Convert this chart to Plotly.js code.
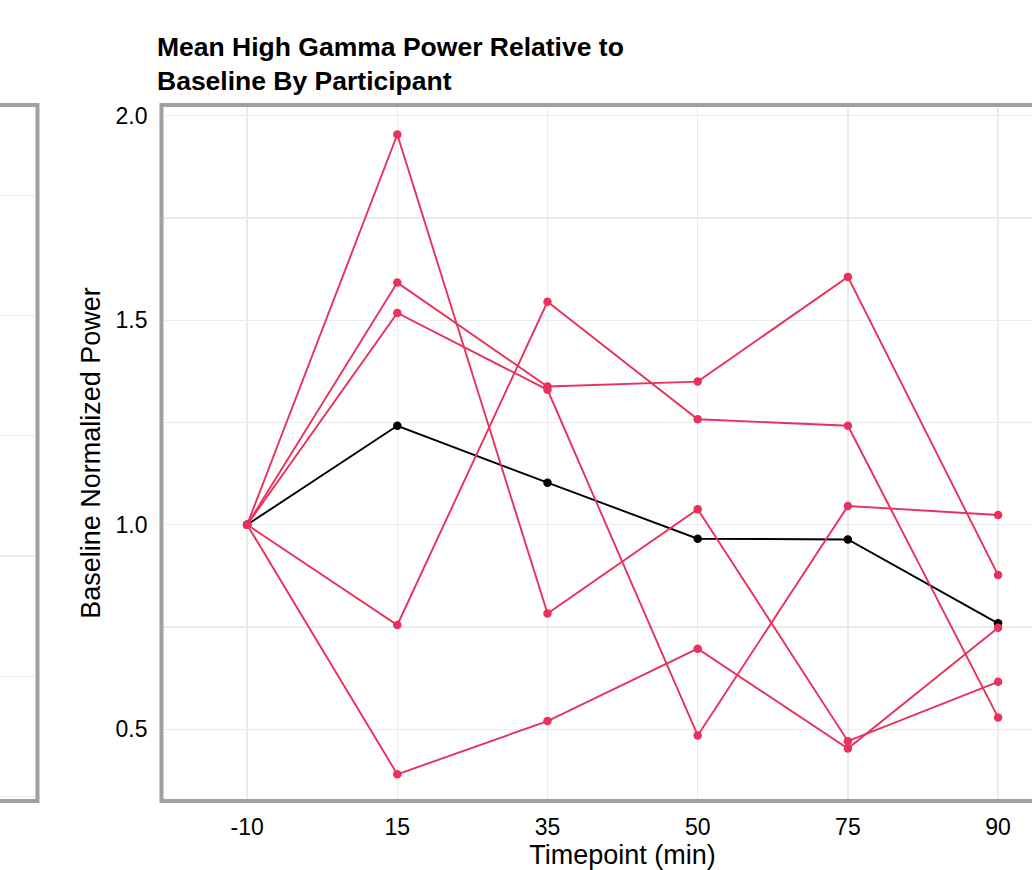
<!DOCTYPE html>
<html>
<head>
<meta charset="utf-8">
<script src="https://cdn.plot.ly/plotly-3.0.1.min.js"></script>
<style>
  html, body { margin: 0; padding: 0; width: 1032px; height: 870px; overflow: hidden; background: #fff; }
  #chart { position: absolute; left: -300px; top: 0; width: 1500px; height: 870px; }
</style>
</head>
<body>
<div id="chart"></div>
<script>
// ---- data ----
const timepoints = ['-10', '15', '35', '50', '75', '90'];
const participant1 = [1.0, 1.954, 0.783, 1.038, 0.471, 0.616];
const participant2 = [1.0, 0.755, 1.545, 1.258, 1.242, 0.529];
const participant3 = [1.0, 1.592, 1.338, 1.350, 1.606, 0.877];
const participant4 = [1.0, 1.518, 1.330, 0.485, 1.046, 1.024];
const participant5 = [1.0, 0.390, 0.520, 0.697, 0.453, 0.748];
const meanPower    = [1.0, 1.242, 1.103, 0.966, 0.964, 0.759];
const yTickVals = [0.5, 1.0, 1.5, 2.0];
const yTickText = ['0.5', '1.0', '1.5', '2.0'];
const leftPanelGrid = [0, 1, 2, 3, 4, 5];

const PINK = '#e8315c';
const FONT = 'Liberation Sans, Arial, Helvetica, sans-serif';
const GRID = '#ebebeb';
const BORDER = '#a0a0a0';

const W = 1500, H = 870, OFF = 300;
const px = v => v / W;
const py = v => 1 - v / H;

const participants = [participant1, participant2, participant3, participant4, participant5];

const traces = [];
traces.push({
  x: timepoints, y: meanPower, type: 'scatter', mode: 'lines+markers',
  line: { color: '#000000', width: 1.9 }, marker: { color: '#000000', size: 8.5 },
  xaxis: 'x', yaxis: 'y', showlegend: false, hoverinfo: 'x+y'
});
participants.forEach(p => {
  traces.push({
    x: timepoints, y: p, type: 'scatter', mode: 'lines+markers',
    line: { color: PINK, width: 1.9 }, marker: { color: PINK, size: 8.5 },
    xaxis: 'x', yaxis: 'y', showlegend: false, hoverinfo: 'x+y'
  });
});
// invisible trace to create the partially visible left panel
traces.push({
  x: [0], y: [0], type: 'scatter', mode: 'markers',
  marker: { opacity: 0 }, xaxis: 'x2', yaxis: 'y2', showlegend: false, hoverinfo: 'skip'
});

// main plot area (screen px)
const mainL = 161.5, mainR = 1083.7, mainT = 105, mainB = 801;
const leftL = -250, leftR = 37.5;

const layout = {
  width: W, height: H,
  margin: { l: 0, r: 0, t: 0, b: 0 },
  paper_bgcolor: '#ffffff', plot_bgcolor: '#ffffff',
  font: { family: FONT, color: '#000000' },
  title: {
    text: '<b>Mean High Gamma Power Relative to<br>Baseline By Participant</b>',
    font: { family: FONT, size: 26.5, color: '#000000' },
    x: px(157 + OFF), xref: 'paper', xanchor: 'left',
    y: 1 - 56 / H, yref: 'container', yanchor: 'top'
  },
  xaxis: {
    type: 'category', domain: [px(mainL + OFF), px(mainR + OFF)],
    range: [-0.57, 5.57], anchor: 'y',
    showgrid: true, gridcolor: GRID, gridwidth: 1.3,
    zeroline: false, showline: false, ticks: '',
    tickfont: { size: 23, color: '#000000', family: FONT },
    ticklabelstandoff: 10,
    title: { text: 'Timepoint (min)', font: { size: 27, family: FONT, color: '#000' }, standoff: 0 },
    fixedrange: true
  },
  yaxis: {
    domain: [py(mainB), py(mainT)],
    range: [0.3247, 2.0262], anchor: 'x',
    tickvals: yTickVals, ticktext: yTickText,
    showgrid: true, gridcolor: GRID, gridwidth: 1.3,
    minor: { tickvals: [0.75, 1.25, 1.75], showgrid: true, gridcolor: GRID, gridwidth: 1.3, ticks: '' },
    zeroline: false, showline: false, ticks: '',
    tickfont: { size: 23, color: '#000000', family: FONT },
    ticklabelstandoff: 13,
    title: { text: 'Baseline Normalized Power', font: { size: 27, family: FONT, color: '#000' }, standoff: 7 },
    fixedrange: true
  },
  xaxis2: {
    domain: [px(leftL + OFF), px(leftR + OFF)], anchor: 'y2',
    range: [0, 1], showgrid: false, zeroline: false, showticklabels: false, ticks: '', fixedrange: true
  },
  yaxis2: {
    domain: [py(mainB), py(mainT)], anchor: 'x2',
    range: [-0.036, 5.75], tickvals: leftPanelGrid,
    showgrid: true, gridcolor: GRID, gridwidth: 1.3,
    zeroline: false, showticklabels: false, ticks: '', fixedrange: true
  },
  shapes: [
    { type: 'rect', xref: 'paper', yref: 'paper', layer: 'above',
      x0: px(mainL + OFF), x1: px(mainR + OFF), y0: py(mainB), y1: py(mainT),
      line: { color: BORDER, width: 4 }, fillcolor: 'rgba(0,0,0,0)' },
    { type: 'rect', xref: 'paper', yref: 'paper', layer: 'above',
      x0: px(leftL + OFF), x1: px(leftR + OFF), y0: py(mainB), y1: py(mainT),
      line: { color: BORDER, width: 4 }, fillcolor: 'rgba(0,0,0,0)' }
  ]
};

Plotly.newPlot('chart', traces, layout, { displayModeBar: false, staticPlot: true });
</script>
</body>
</html>
